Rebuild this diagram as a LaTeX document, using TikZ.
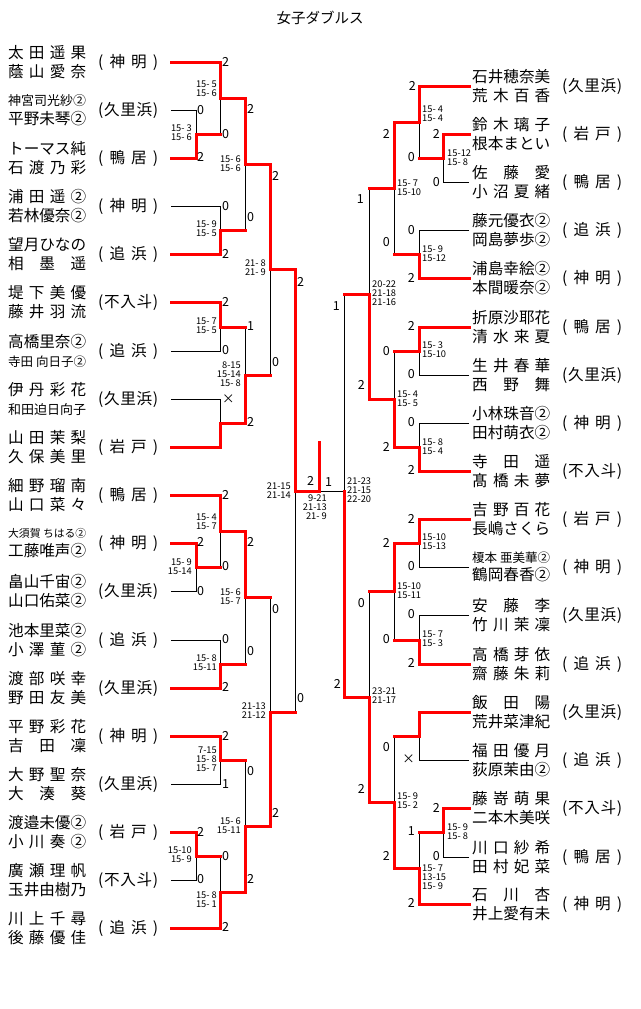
\documentclass[tikz,border=0pt]{standalone}
\usepackage{fontspec}
\setmainfont{Noto Sans CJK JP}
\usepackage{graphicx}

% spread the characters of a name over a fixed width
\def\spr#1#2\relax{#1\ifx\relax#2\relax\else\hfil\spr#2\relax\fi}
\newcommand\nmx[1]{\sbox0{\spr#1\relax}%
  \ifdim\wd0>78.5pt\resizebox{78pt}{!}{#1}\else\hbox to 78pt{\spr#1\relax}\fi}
\newcommand\nm[1]{\edef\nmtmp{#1}\expandafter\nmx\expandafter{\nmtmp}}
\newcommand\clbx[1]{\hbox to 60pt{(\hfil\spr#1\relax\hfil)}}
\newcommand\clb[1]{\edef\nmtmp{#1}\expandafter\clbx\expandafter{\nmtmp}}

\begin{document}
\begin{tikzpicture}[x=1pt,y=-1pt]

\tikzset{
  team_s/.style = {anchor=west, inner sep=0pt, align=left,
    font=\fontsize{15.6}{18.5}\selectfont},
  club_s/.style = {anchor=west, inner sep=0pt,
    font=\fontsize{15.6}{18.5}\selectfont},
  pt_s/.style = {inner sep=0pt, font=\fontsize{12.5}{13}\selectfont},
  setl_s/.style = {anchor=east, inner sep=0pt, align=right,
    font=\fontsize{9.3}{8.8}\selectfont},
  setr_s/.style = {anchor=west, inner sep=0pt, align=left,
    font=\fontsize{9.3}{8.8}\selectfont},
  w_l/.style = {draw=red, line width=3pt, line cap=rect},
  l_l/.style = {draw=black, line width=0.8pt}
}
\useasboundingbox (0,0) rectangle (640,1009);

\node [font=\fontsize{14.5}{15}\selectfont] (ttl) at (320,18) {女子ダブルス};

% left side
\foreach \k/\ya/\na/\nb/\cb in {
  1/62/太田 遥果/蔭山 愛奈/神明,
  2/110/神宮司光紗②/平野 未琴②/久里浜,
  3/158/トーマス純/石渡 乃彩/鴨居,
  4/206/浦田 遥②/若林 優奈②/神明,
  5/254/望月 ひなの/相墨 遥/追浜,
  6/302/堤下 美優/藤井 羽流/不入斗,
  7/351/高橋 里奈②/寺田 向日子②/追浜,
  8/399/伊丹 彩花/和田迫日向子/久里浜,
  9/447/山田 茉梨/久保 美里/岩戸,
  10/495/細野 瑠南/山口 菜々/鴨居,
  11/543/大須賀 ちはる②/工藤 唯声②/神明,
  12/591/畠山 千宙②/山口 佑菜②/久里浜,
  13/640/池本 里菜②/小澤 菫②/追浜,
  14/688/渡部 咲幸/野田 友美/久里浜,
  15/736/平野 彩花/吉田 凜/神明,
  16/784/大野 聖奈/大湊 葵/久里浜,
  17/832/渡邉 未優②/小川 奏②/岩戸,
  18/880/廣瀬 理帆/玉井 由樹乃/不入斗,
  19/928/川上 千尋/後藤 優佳/追浜} {
  \coordinate (lt\k) at (171,\ya);
  \node [team_s] (ln\k) at (8,\ya) {\nm{\na}\\\nm{\nb}};
  \node [club_s] (lc\k) at (98,\ya) {\clb{\cb}};
}

% right side
\foreach \k/\ya/\na/\nb/\cb in {
  1/86/石井穂奈美/荒木 百香/久里浜,
  2/134/鈴木 璃子/根本 まとい/岩戸,
  3/182/佐藤 愛/小沼 夏緒/鴨居,
  4/230/藤元 優衣②/岡島 夢歩②/追浜,
  5/278/浦島 幸絵②/本間 暖奈②/神明,
  6/327/折原 沙耶花/清水 来夏/鴨居,
  7/375/生井 春華/西野 舞/久里浜,
  8/423/小林 珠音②/田村 萌衣②/神明,
  9/471/寺田 遥/髙橋 未夢/不入斗,
  10/519/吉野 百花/長嶋 さくら/岩戸,
  11/567/榎本 亜美華②/鶴岡 春香②/神明,
  12/615/安藤 李/竹川 茉凜/久里浜,
  13/664/高橋 芽依/齋藤 朱莉/追浜,
  14/712/飯田 陽/荒井菜津紀/久里浜,
  15/760/福田 優月/荻原 茉由②/追浜,
  16/808/藤嵜 萌果/二本木 美咲/不入斗,
  17/857/川口 紗希/田村 妃菜/鴨居,
  18/904/石川 杏/井上 愛有未/神明} {
  \coordinate (rt\k) at (469,\ya);
  \node [team_s] (rn\k) at (472,\ya) {\nm{\na}\\\nm{\nb}};
  \node [club_s] (rc\k) at (562,\ya) {\clb{\cb}};
}

% match points
\foreach \m/\xx/\yy in {
  A1/196/134, A2/220/98, A3/220/230, A4/245/164, A5/220/327, A6/220/423,
  A7/245/375, A8/270/269, B1/196/567, B2/220/531, B3/220/664, B4/245/597,
  B5/220/760, B6/196/856, B7/220/892, B8/245/826, B9/270/712, SL/295/491,
  C1/443/158, C2/419/122, C3/419/254, C4/394/188, C5/419/351, C6/419/447,
  C7/394/399, C8/369/294, D1/419/543, D2/419/640, D3/394/591, D4/419/736,
  D5/443/832, D6/419/868, D7/394/802, D8/369/697, SR/344/491,
  FN/319/491, champ/319/442}
  \coordinate (\m) at (\xx,\yy);

\def\edges{
  lt1/A2/w_l/w_l, lt2/A1/l_l/l_l, lt3/A1/w_l/w_l, A1/A2/w_l/l_l,
  lt4/A3/l_l/l_l, lt5/A3/w_l/w_l, A2/A4/w_l/w_l, A3/A4/w_l/l_l,
  lt6/A5/w_l/w_l, lt7/A5/l_l/l_l, lt8/A6/l_l/l_l, lt9/A6/w_l/w_l,
  A5/A7/w_l/l_l, A6/A7/w_l/w_l, A4/A8/w_l/w_l, A7/A8/w_l/l_l,
  A8/SL/w_l/w_l,
  lt10/B2/w_l/w_l, lt11/B1/w_l/w_l, lt12/B1/l_l/l_l, B1/B2/w_l/l_l,
  lt13/B3/l_l/l_l, lt14/B3/w_l/w_l, B2/B4/w_l/w_l, B3/B4/w_l/l_l,
  lt15/B5/w_l/w_l, lt16/B5/l_l/l_l, lt17/B6/w_l/w_l, lt18/B6/l_l/l_l,
  B6/B7/w_l/l_l, lt19/B7/w_l/w_l, B5/B8/w_l/l_l, B7/B8/w_l/w_l,
  B4/B9/w_l/l_l, B8/B9/w_l/w_l, B9/SL/w_l/l_l,
  rt1/C2/w_l/w_l, rt2/C1/w_l/w_l, rt3/C1/l_l/l_l, C1/C2/w_l/l_l,
  rt4/C3/l_l/l_l, rt5/C3/w_l/w_l, C2/C4/w_l/w_l, C3/C4/w_l/l_l,
  rt6/C5/w_l/w_l, rt7/C5/l_l/l_l, rt8/C6/l_l/l_l, rt9/C6/w_l/w_l,
  C5/C7/w_l/l_l, C6/C7/w_l/w_l, C4/C8/w_l/l_l, C7/C8/w_l/w_l,
  C8/SR/w_l/l_l,
  rt10/D1/w_l/w_l, rt11/D1/l_l/l_l, rt12/D2/l_l/l_l, rt13/D2/w_l/w_l,
  D1/D3/w_l/w_l, D2/D3/w_l/l_l, rt14/D4/w_l/w_l, rt15/D4/l_l/l_l,
  rt16/D5/w_l/w_l, rt17/D5/l_l/l_l, D5/D6/w_l/l_l, rt18/D6/w_l/w_l,
  D4/D7/w_l/l_l, D6/D7/w_l/w_l, D3/D8/w_l/l_l, D7/D8/w_l/w_l,
  D8/SR/w_l/w_l}

% bracket: black first, red on top
\foreach \ch/\pa/\h/\v in \edges
  \draw [l_l] (\ch) -- (\ch -| \pa) -- (\pa);
\draw [l_l] (SR) -- (FN);
\begin{scope}[l_l/.style={draw=none}]
\foreach \ch/\pa/\h/\v in \edges {
  \draw [\h] (\ch) -- (\ch -| \pa);
  \draw [\v] (\ch -| \pa) -- (\pa);
}
\end{scope}
\draw [w_l] (SL) -- (FN) -- (champ);

% games won
\foreach \xx/\yy/\t [count=\k] in {
  222/62/2, 197/110/0, 197/157/2, 222/134/0, 247/109/2, 272/176/2,
  222/206/0, 247/217/0, 222/254/2, 297/282/2, 222/302/2, 247/326/1,
  222/350/0, 272/362/0, 222/399/×, 247/422/2, 307/481/2, 325/482/1,
  222/495/2, 197/542/2, 247/542/2, 222/566/0, 197/591/0, 272/609/0,
  222/639/0, 247/651/0, 222/687/2, 297/698/0, 222/736/2, 247/771/0,
  222/784/1, 272/813/2, 197/832/2, 222/856/0, 197/879/0, 247/879/2,
  222/927/2}
  \node [pt_s, anchor=west] (pl\k) at (\xx,\yy) {\t};
\foreach \xx/\yy/\t [count=\k] in {
  416/86/2, 390/134/2, 440/134/2, 415/157/0, 440/182/0, 364/199/1,
  415/230/0, 390/242/0, 415/278/2, 340/306/1, 415/326/2, 390/351/0,
  415/374/0, 365/385/2, 415/422/0, 390/447/2, 415/470/2, 415/519/2,
  390/543/2, 415/566/0, 365/603/0, 415/614/0, 390/639/0, 415/663/2,
  341/684/2, 390/747/0, 415/759/×, 365/789/2, 440/808/2, 415/831/1,
  390/856/2, 440/856/0, 415/903/2}
  \node [pt_s, anchor=east] (pr\k) at (\xx,\yy) {\t};

% set scores
\foreach \xx/\yy/\t [count=\k] in {
  217/89/{15-~5\\15-~6}, 192/133/{15-~3\\15-~6}, 241/164/{15-~6\\15-~6},
  217/229/{15-~9\\15-~5}, 266/268/{21-~8\\21-~9}, 217/326/{15-~7\\15-~5},
  241/374/{8-15\\15-14\\15-~8}, 291/491/{21-15\\21-14},
  217/522/{15-~4\\15-~7}, 192/567/{15-~9\\15-14}, 241/597/{15-~6\\15-~7},
  217/663/{15-~8\\15-11}, 266/711/{21-13\\21-12},
  217/759/{7-15\\15-~8\\15-~7}, 241/826/{15-~6\\15-11},
  192/855/{15-10\\15-~9}, 217/900/{15-~8\\15-~1},
  327/507/{9-21\\21-13\\21-~9}}
  \node [setl_s] (sl\k) at (\xx,\yy) {\t};
\foreach \xx/\yy/\t [count=\k] in {
  422/114/{15-~4\\15-~4}, 447/158/{15-12\\15-~8}, 397/188/{15-~7\\15-10},
  422/254/{15-~9\\15-12}, 372/293/{20-22\\21-18\\21-16},
  422/350/{15-~3\\15-10}, 397/399/{15-~4\\15-~5}, 422/447/{15-~8\\15-~4},
  347/490/{21-23\\21-15\\22-20}, 422/542/{15-10\\15-13},
  397/591/{15-10\\15-11}, 422/639/{15-~7\\15-~3}, 372/696/{23-21\\21-17},
  397/801/{15-~9\\15-~2}, 447/832/{15-~9\\15-~8},
  422/877/{15-~7\\13-15\\15-~9}}
  \node [setr_s] (sr\k) at (\xx,\yy) {\t};

\end{tikzpicture}
\end{document}
